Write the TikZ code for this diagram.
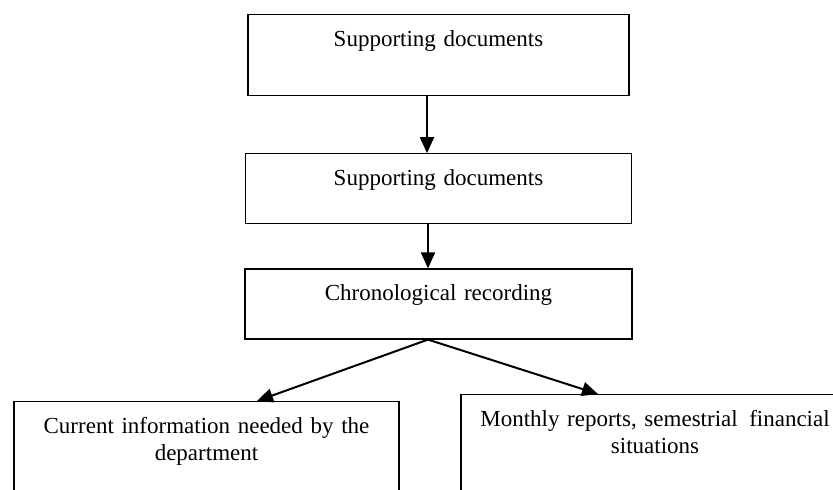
\documentclass[tikz,border=0pt]{standalone}
\usepackage{fontspec}
\setmainfont{Liberation Serif}
\usetikzlibrary{positioning,arrows.meta}

\begin{document}
\begin{tikzpicture}[x=0.5pt, y=-0.5pt, node distance=28.5pt,
    box/.style={draw, line width=0.6pt, rectangle, inner sep=0pt, align=center,
      text height=16pt, font=\fontsize{11.5}{13.5}\selectfont},
    flow/.style={-{Triangle[length=8pt,width=7pt]}, line width=1pt}]
  \path[use as bounding box, clip] (0,0) rectangle (833,490);
  \node[box, text width=190.5pt, text depth=24.5pt, anchor=north] (doc1) at (438.5,14) {Supporting documents};
  \node[box, text width=193pt, text depth=19pt] (doc2) [below=of doc1] {Supporting documents};
  \node[box, text width=193.5pt, text depth=19pt] (rec) [below=22pt of doc2] {Chronological recording};
  \node[box, text width=192.5pt, text depth=80pt, anchor=north] (cur) at (206.5,401) {Current information needed by the\\ department};
  \node[box, text width=194pt, text depth=80pt, anchor=north] (rep) at (655,394) {Monthly reports, semestrial\ \,financial\\ situations};
  \draw[flow] ([xshift=-5.75pt]doc1.south) -- ([xshift=-5.75pt]doc1.south |- doc2.north);
  \draw[flow] ([xshift=-5.25pt]doc2.south) -- ([xshift=-5.25pt]doc2.south |- rec.north);
  \draw[flow] ([xshift=-5.25pt]rec.south) -- ([xshift=25.25pt]cur.north);
  \draw[flow] ([xshift=-5.25pt]rec.south) -- ([xshift=-28.5pt]rep.north);
\end{tikzpicture}
\end{document}
